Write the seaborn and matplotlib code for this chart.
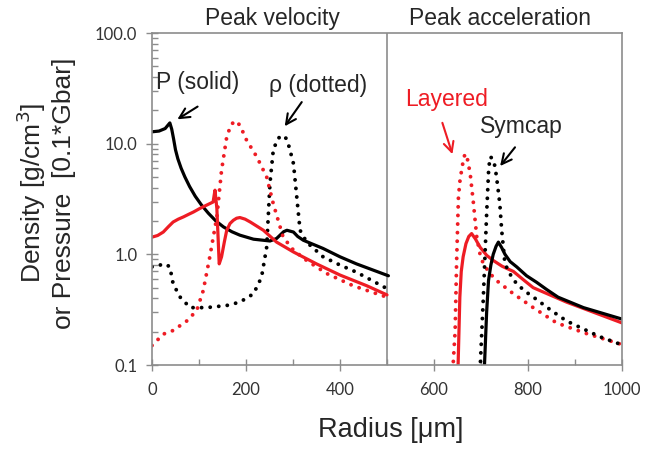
#!/usr/bin/env python3
"""
Density and pressure radial profiles at peak velocity and peak
acceleration, layered vs symcap, on a log scale.
"""
import matplotlib
matplotlib.use("Agg")
import matplotlib.pyplot as plt
import matplotlib.ticker as mticker
import seaborn as sns

# peak velocity, symcap (black)
vel_p_sym_r = [0, 15, 28, 38, 42, 46, 50, 55, 62, 70, 80, 92, 105, 120, 136,
               152, 170, 187, 216, 251, 265, 280, 287, 301, 310, 322, 364,
               400, 435, 503]
vel_p_sym = [12.8, 13.0, 13.7, 15.4, 13.5, 11.0, 8.8, 7.3, 6.0, 5.0, 4.1,
             3.35, 2.8, 2.35, 2.0, 1.77, 1.6, 1.49, 1.37, 1.32, 1.39, 1.6,
             1.65, 1.59, 1.45, 1.34, 1.13, 0.95, 0.82, 0.64]
vel_rho_sym_r = [0, 28, 38, 45, 60, 81, 116, 159, 187, 216, 233, 244, 251,
                 258, 267, 276, 285, 292, 301, 308, 315, 329, 364, 400, 435,
                 500]
vel_rho_sym = [0.77, 0.82, 0.77, 0.54, 0.41, 0.33, 0.33, 0.345, 0.37, 0.44,
               0.62, 1.16, 4.4, 8.7, 11.0, 11.9, 11.2, 9.3, 6.6, 3.3, 1.65,
               1.29, 0.95, 0.80, 0.69, 0.49]

# peak velocity, layered (red)
vel_p_lay_r = [0, 12, 24, 35, 45, 56, 67, 78, 88, 102, 116, 130, 134, 138,
               143, 148, 154, 159, 166, 173, 180, 187, 198, 209, 237, 265,
               301, 350, 400, 457, 500]
vel_p_lay = [1.43, 1.48, 1.59, 1.78, 1.96, 2.08, 2.18, 2.3, 2.41, 2.6, 2.78,
             2.97, 3.8, 2.6, 0.82, 0.95, 1.3, 1.65, 1.9, 2.03, 2.12, 2.15,
             2.08, 1.96, 1.65, 1.29, 1.05, 0.82, 0.65, 0.52, 0.43]
vel_rho_lay_r = [0, 24, 45, 74, 95, 109, 123, 138, 148, 159, 168, 177, 187,
                 201, 223, 244, 258, 279, 301, 329, 372, 428, 500]
vel_rho_lay = [0.15, 0.19, 0.205, 0.25, 0.31, 0.47, 0.95, 2.18, 5.75, 11.5,
               14.8, 16.1, 14.7, 10.8, 7.6, 5.0, 2.87, 1.43, 1.09, 0.88,
               0.67, 0.52, 0.41]

# peak acceleration, symcap (black)
acc_p_sym_r = [707, 712, 716, 721, 726, 732, 737, 744, 751, 762, 776, 797,
               818, 840, 864, 918, 1000]
acc_p_sym = [0.09, 0.3, 0.58, 0.8, 1.0, 1.18, 1.29, 1.15, 1.0, 0.86, 0.77,
             0.64, 0.56, 0.48, 0.41, 0.33, 0.26]
acc_rho_sym_r = [698, 705, 712, 716, 719, 724, 730, 735, 740, 744, 751, 762,
                 776, 795, 815, 850, 882, 953, 1000]
acc_rho_sym = [0.09, 0.41, 2.33, 5.5, 7.6, 7.4, 6.2, 4.3, 2.87, 1.65, 0.82,
               0.66, 0.54, 0.46, 0.40, 0.31, 0.25, 0.18, 0.152]

# peak acceleration, layered (red)
acc_p_lay_r = [651, 655, 658, 662, 668, 674, 680, 688, 698, 712, 726, 745,
               769, 790, 811, 882, 1000]
acc_p_lay = [0.09, 0.41, 0.7, 0.95, 1.25, 1.45, 1.54, 1.38, 1.16, 0.98, 0.88,
             0.78, 0.70, 0.59, 0.50, 0.37, 0.24]
acc_rho_lay_r = [640, 645, 648, 652, 656, 659, 662, 666, 671, 677, 684, 691,
                 698, 705, 718, 733, 769, 811, 861, 920, 1000]
acc_rho_lay = [0.09, 0.205, 0.82, 3.3, 5.0, 5.75, 7.0, 8.1, 7.3, 5.35, 2.87,
               1.43, 1.0, 0.82, 0.68, 0.58, 0.44, 0.33, 0.24, 0.195, 0.153]

y_ticks = [0.1, 1, 10, 100]
y_tick_labels = ["0.1", "1.0", "10.0", "100.0"]
x_ticks = [0, 200, 400, 600, 800, 1000]

RED = "#ee1c24"
GRAY = "#8c8c8c"
DOT = (0, (0.01, 2.2))

sns.set_style("ticks")
plt.rcParams["font.family"] = ["Liberation Sans", "DejaVu Sans"]

fig = plt.figure(figsize=(6.48, 4.51), dpi=100)
ax = fig.add_axes([152 / 648, 1 - 365 / 451, 470 / 648, 332 / 451])

curves = [
    (vel_p_sym_r, vel_p_sym, "black", "-"),
    (vel_rho_sym_r, vel_rho_sym, "black", DOT),
    (vel_p_lay_r, vel_p_lay, RED, "-"),
    (vel_rho_lay_r, vel_rho_lay, RED, DOT),
    (acc_p_lay_r, acc_p_lay, RED, "-"),
    (acc_rho_lay_r, acc_rho_lay, RED, DOT),
    (acc_p_sym_r, acc_p_sym, "black", "-"),
    (acc_rho_sym_r, acc_rho_sym, "black", DOT),
]
for xs, ys, color, ls in curves:
    lw = 2.3 if ls == "-" else 2.8
    sns.lineplot(x=xs, y=ys, ax=ax, color=color, sort=False,
                 estimator=None, linewidth=lw, linestyle=ls,
                 solid_capstyle="round", dash_capstyle="round",
                 solid_joinstyle="round")

ax.axvline(500, color=GRAY, lw=1.2, zorder=0)

ax.set_yscale("log")
ax.set_xlim(0, 1000)
ax.set_ylim(0.1, 100)
ax.set_xticks(x_ticks)
ax.xaxis.set_minor_locator(mticker.MultipleLocator(100))
ax.set_yticks(y_ticks)
ax.set_yticklabels(y_tick_labels)
ax.yaxis.set_minor_locator(mticker.LogLocator(base=10, subs=range(2, 10)))
ax.yaxis.set_minor_formatter(mticker.NullFormatter())
ax.tick_params(which="major", direction="inout", length=9, width=1,
               color=GRAY, labelsize=12, labelcolor="#333333", pad=6)
ax.tick_params(which="minor", direction="in", length=4, width=1,
               color=GRAY)
ax.tick_params(axis="x", which="major", pad=8)
for lab in ax.get_xticklabels() + ax.get_yticklabels():
    lab.set_family(["Lato", "DejaVu Sans"])
for sp in ax.spines.values():
    sp.set_color(GRAY)
    sp.set_linewidth(1.2)

ax.set_xlabel("")
ax.set_ylabel("")
fig.text(391 / 648, 1 - 430 / 451, "Radius [\u03bcm]", fontsize=19.5,
         ha="center", va="center")
fig.text(45 / 648, 1 - 193 / 451,
         "Density [g/cm$^3$]\nor Pressure  [0.1*Gbar]", fontsize=19,
         rotation=90, ha="center", va="center", multialignment="center")

trans = ax.get_xaxis_transform()
ax.text(257, 1.045, "Peak velocity", transform=trans, fontsize=16.5,
        ha="center", va="center")
ax.text(740, 1.045, "Peak acceleration", transform=trans, fontsize=16.5,
        ha="center", va="center")

arrow = dict(arrowstyle="->", lw=1.5, mutation_scale=18)
ax.text(98, 36, "P (solid)", fontsize=16.5, ha="center", va="center")
ax.annotate("", xy=(49, 16.1), xytext=(102, 22.3),
            arrowprops=dict(arrow, color="black"))
ax.text(353, 33.8, "\u03c1 (dotted)", fontsize=16.5, ha="center",
        va="center")
ax.annotate("", xy=(279, 13.7), xytext=(322, 24.9),
            arrowprops=dict(arrow, color="black"))
ax.text(627, 24.9, "Layered", fontsize=16.5, ha="center", va="center",
        color=RED)
ax.annotate("", xy=(641, 7.6), xytext=(616, 16.3),
            arrowprops=dict(arrow, color=RED))
ax.text(785, 14.4, "Symcap", fontsize=16.5, ha="center", va="center")
ax.annotate("", xy=(737, 6.0), xytext=(776, 9.7),
            arrowprops=dict(arrow, color="black"))

plt.savefig("out.png", dpi=100)
